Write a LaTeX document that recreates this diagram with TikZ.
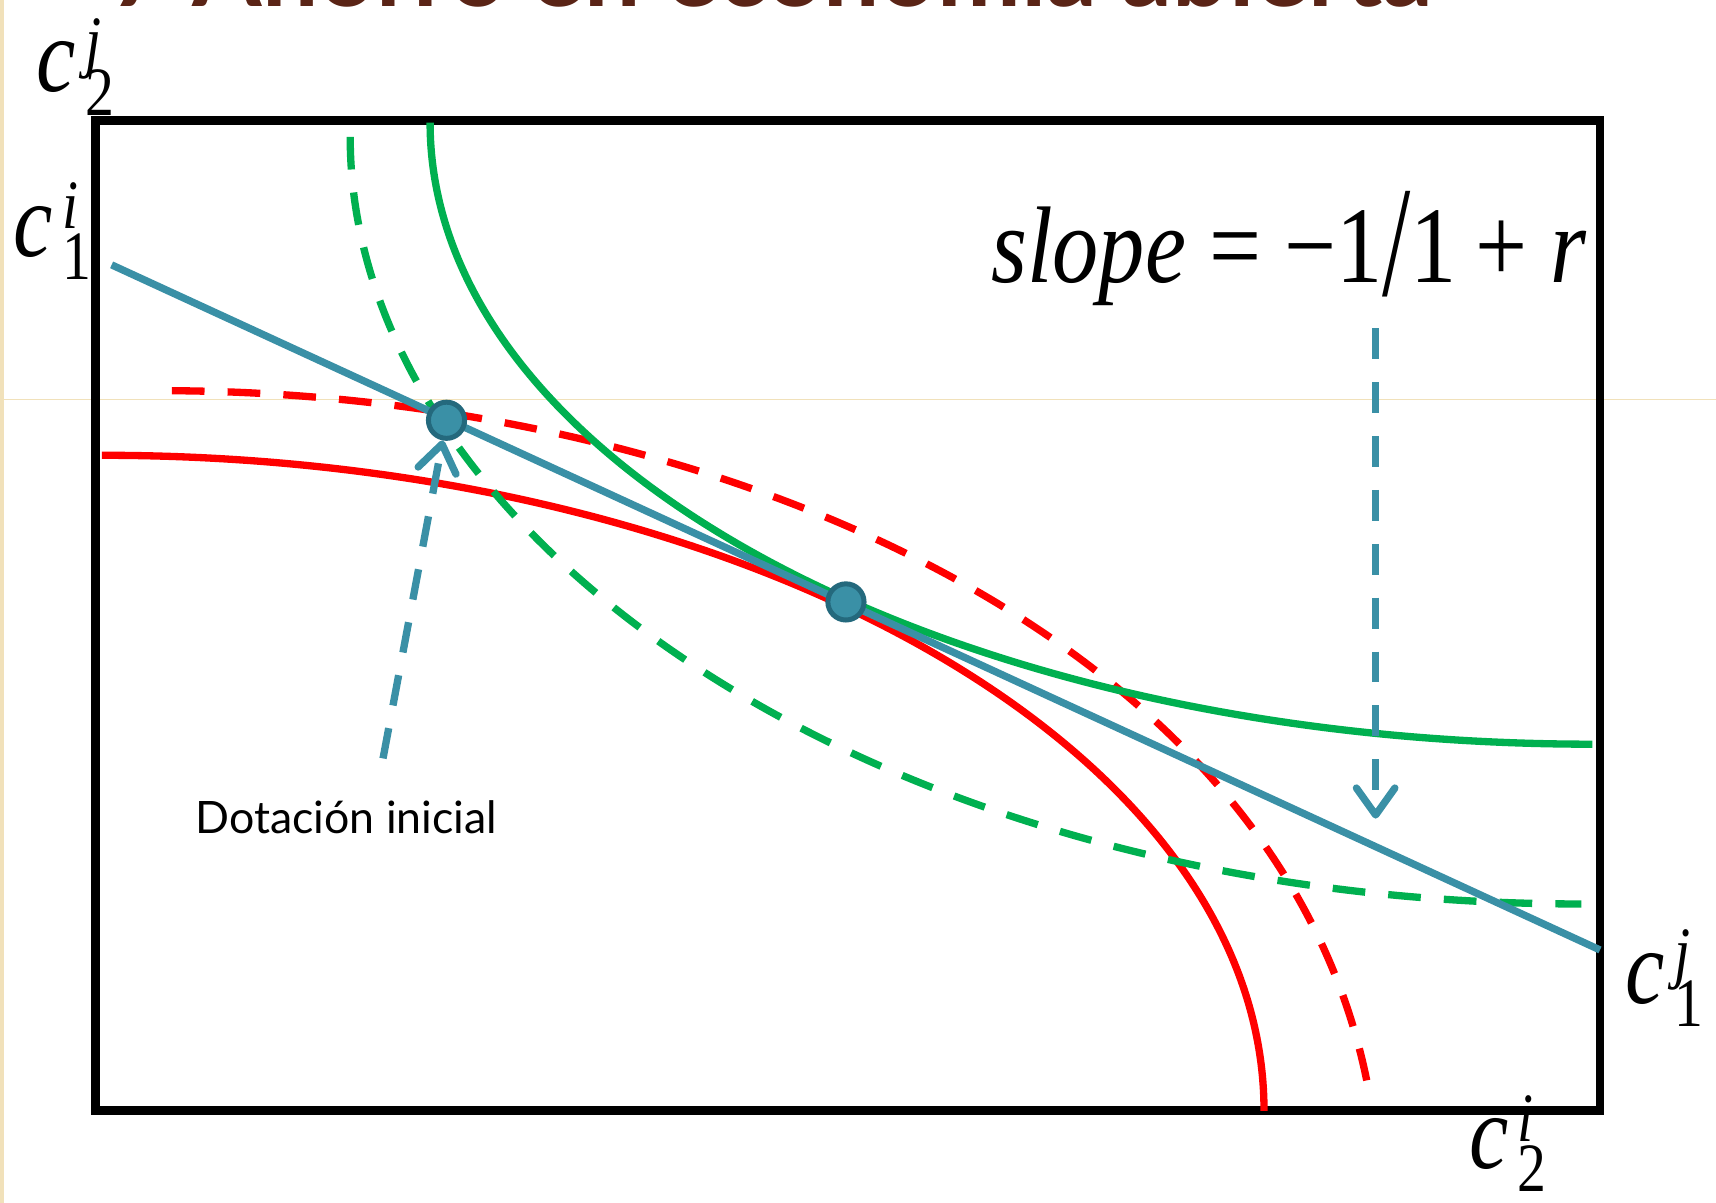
\documentclass[tikz,border=0pt]{standalone}
\usepackage{amsmath}
\usepackage{fontspec}
\setmainfont{Liberation Serif}
\newfontfamily\gillfont{Lato}
\usetikzlibrary{arrows.meta,positioning}
\definecolor{budget}{HTML}{3A90A6}
\definecolor{budgetdark}{HTML}{24697D}
\definecolor{icred}{HTML}{FF0000}
\definecolor{icgreen}{HTML}{00B050}
\definecolor{titlebrown}{HTML}{5A2416}
\definecolor{slidebeige}{HTML}{F1E1BA}

% consumption label: c with stacked super- and subscript
\newcommand{\cons}[2]{\scalebox{1}[1.2]{{\itshape c}\hspace{0.1em}%
  \rlap{\raisebox{6pt}{\fontsize{15}{15}\selectfont\itshape #2}}%
  \raisebox{-5pt}{\fontsize{15}{15}\selectfont #1}}}

\begin{document}
\begin{tikzpicture}[x=0.01cm, y=-0.01cm,
  frame/.style={draw=black, line width=2.3pt},
  curve/.style={line width=1.9pt, draw=#1},
  dashcurve/.style={curve=#1, dash pattern=on 8.5pt off 6pt},
  budgetline/.style={line width=1.9pt, draw=budget},
  arrow/.style={-{Straight Barb[length=7pt, width=10pt, round]}, line width=1.9pt, draw=budget, dash pattern=on 8pt off 6pt},
  dot/.style={circle, fill=budget, draw=budgetdark, line width=1.3pt, minimum size=9.4pt, inner sep=0pt},
  cons/.style={font=\fontsize{23}{26}\selectfont, inner sep=0pt, anchor=base west},
  note/.style={font=\gillfont\fontsize{11.6}{14}\selectfont, inner sep=0pt, anchor=base west}
]
  \useasboundingbox (0,0) rectangle (1568,1099);

  % slide background leftovers
  \fill[slidebeige] (0,0) rectangle (4,1099);
  \draw[slidebeige, line width=0.3pt] (0,365) -- (1568,365);
  \node[font=\gillfont\bfseries\fontsize{26}{30}\selectfont, titlebrown, inner sep=0pt, anchor=base west] (title) at (100,6) {7 Ahorro en economía abierta};

  % Edgeworth box
  \draw[frame] (87,110) rectangle (1462,1015);
  \node[cons] (c2j) at (33,84) {\cons{2}{j}};
  \node[cons] (c1i) at (12,234) {\cons{1}{i}};
  \node[cons] (c1j) at (1485,917) {\cons{1}{j}};
  \node[cons] (c2i) at (1342,1068) {\cons{2}{i}};

  % indifference curves of i
  \draw[curve=icred] (93,416) .. controls (679,416) and (1155,684) .. (1155,1015);
  \draw[dashcurve=icred] (157,357) .. controls (650,360) and (1170,580) .. (1250,993);

  % indifference curves of j
  \draw[curve=icgreen] (393,112) .. controls (393,426) and (869,680) .. (1455,680);
  \draw[dashcurve=icgreen] (320,125) .. controls (320,490) and (800,826) .. (1445,826);

  % budget line
  \coordinate (b0) at (102,242);
  \coordinate (b1) at (1462,868);
  \draw[budgetline] (b0) -- (b1);

  % slope label and arrows
  \node[font=\fontsize{24}{26}\selectfont, inner sep=0pt, anchor=base west] (slope) at (905,258)
    {\scalebox{1}[1.18]{\textit{slope}\hspace{0.25em}=\hspace{0.25em}−1\raisebox{-0.12em}{\scalebox{1.1}[1.45]{/}}1\hspace{0.2em}+\hspace{0.25em}\textit{r}}};
  \node[note] (dot) at (178,762) {Dotación inicial};

  \node[dot] (e0) at (408,384) {};
  \node[dot] (e1) at (773,550) {};

  \coordinate (a0) at (350,693);
  \coordinate (s0) at (1257,300);
  \coordinate (s1) at (1257,748);
  \draw[arrow] (a0) -- (e0);
  \draw[arrow] (s0) -- (s1);
\end{tikzpicture}
\end{document}
